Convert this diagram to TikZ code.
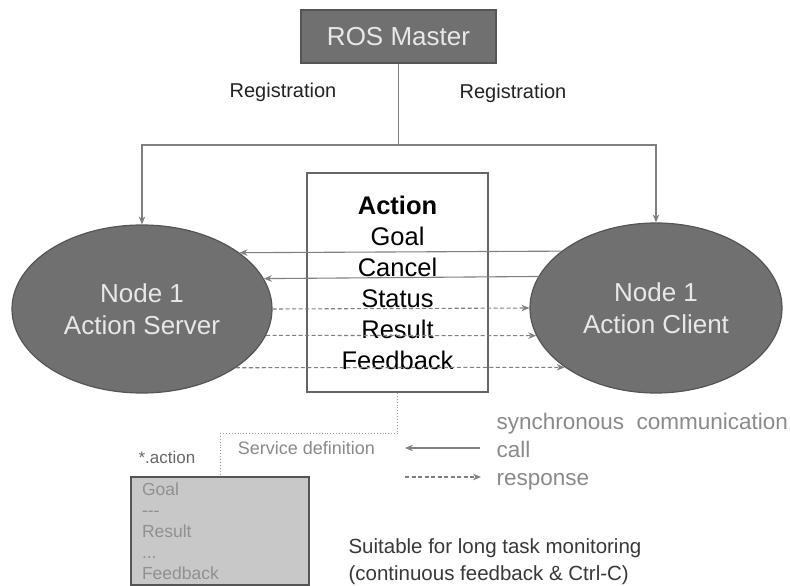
\documentclass[tikz,border=0pt]{standalone}
\usepackage{fontspec}
\setmainfont{Liberation Sans}
\usetikzlibrary{shapes.geometric,arrows.meta}
\definecolor{nodegray}{HTML}{707070}
\definecolor{edgegray}{HTML}{555555}
\definecolor{linegray}{HTML}{808080}
\definecolor{paletext}{HTML}{E8E8E8}
\definecolor{softtext}{HTML}{8A8A8A}
\definecolor{deftext}{HTML}{909090}
\definecolor{deffill}{HTML}{C8C8C8}
\definecolor{inktext}{HTML}{222222}

\begin{document}
\begin{tikzpicture}[x=1pt,y=-1pt,
  master/.style={draw=edgegray, line width=1.5pt, fill=nodegray, text=paletext,
    minimum width=195pt, minimum height=53pt, inner sep=0pt,
    font=\fontsize{26}{30}\selectfont},
  rosnode/.style={ellipse, draw=edgegray, line width=1.2pt, fill=nodegray,
    text=paletext, inner sep=0pt, align=center,
    font=\fontsize{26}{32}\selectfont},
  actbox/.style={draw=edgegray!90, line width=1.8pt, fill=white, text=black,
    minimum width=181pt, minimum height=219pt, inner sep=0pt, align=center,
    font=\fontsize{25.5}{31}\selectfont},
  defbox/.style={draw=edgegray, line width=1.8pt, fill=deffill, text=deftext,
    minimum width=178pt, minimum height=108pt, text width=156pt,
    inner xsep=11pt, inner ysep=0pt, align=left,
    font=\fontsize{17.5}{21}\selectfont},
  plain/.style={draw=linegray, line width=1.1pt},
  call/.style={plain, -{Stealth[length=8pt,width=6.5pt]}},
  reply/.style={call, dash pattern=on 4pt off 2.5pt},
  defline/.style={draw=linegray!80, line width=0.9pt, dotted},
  label/.style={anchor=base, text=inktext, font=\fontsize{20}{24}\selectfont},
  legend/.style={anchor=base west, text=softtext, font=\fontsize{22.5}{27}\selectfont},
  note/.style={anchor=base west, text=inktext!90, font=\fontsize{20.5}{25}\selectfont}
]
\useasboundingbox (0,0) rectangle (790,586);

% master and the two action nodes
\node[master] (master) at (398.5,36.5) {ROS Master};
\node[rosnode, minimum width=260pt, minimum height=168pt] (server) at (142,309)
  {Node 1\\Action Server};
\node[rosnode, minimum width=252pt, minimum height=170pt] (client) at (656,308)
  {Node 1\\Action Client};

% registration with the master
\coordinate (reg) at (398.5,145);
\draw[plain] (master.south) -- (reg);
\draw[call] (reg) -| (server.north);
\draw[call] (reg) -| (client.north);
\node[label] at (283,97) {Registration};
\node[label] at (513,99) {Registration};

% action messages
\node[actbox] (actbox) at (397.5,282.5)
  {\textbf{Action}\\Goal\\Cancel\\Status\\Result\\Feedback};

\draw[call]  (client.149.4) -- (server.30.8);
\draw[call]  (client.165.2) -- (server.14.9);
\draw[reply] (server.0)     -- (client.180);
\draw[reply] (server.-12.4) -- (client.193.2);
\draw[reply] (server.-32.5) -- (client.213.9);

% action definition file
\node[defbox] (defbox) at (220,531)
  {Goal\\-{}-{}-\\Result\\...\\Feedback};
\draw[defline] (actbox.south) -- ++(0,41) -| (defbox.north);
\node[anchor=base, text=softtext, font=\fontsize{18}{22}\selectfont] at (306.5,454)
  {Service definition};
\node[anchor=base west, text=edgegray!90, font=\fontsize{17}{20}\selectfont] at (135,463)
  {*.action};

% legend
\coordinate (callR) at (480,448);
\coordinate (callL) at (405,448);
\coordinate (respL) at (405,477);
\coordinate (respR) at (481,477);
\draw[call]  (callR) -- (callL);
\draw[reply] (respL) -- (respR);
\node[legend] at (493,429) {synchronous\ \ communication};
\node[legend] at (493,457) {call};
\node[legend] at (493,485) {response};

\node[note] at (345,553) {Suitable for long task monitoring};
\node[note] at (345,580) {(continuous feedback \& Ctrl-C)};
\end{tikzpicture}
\end{document}
